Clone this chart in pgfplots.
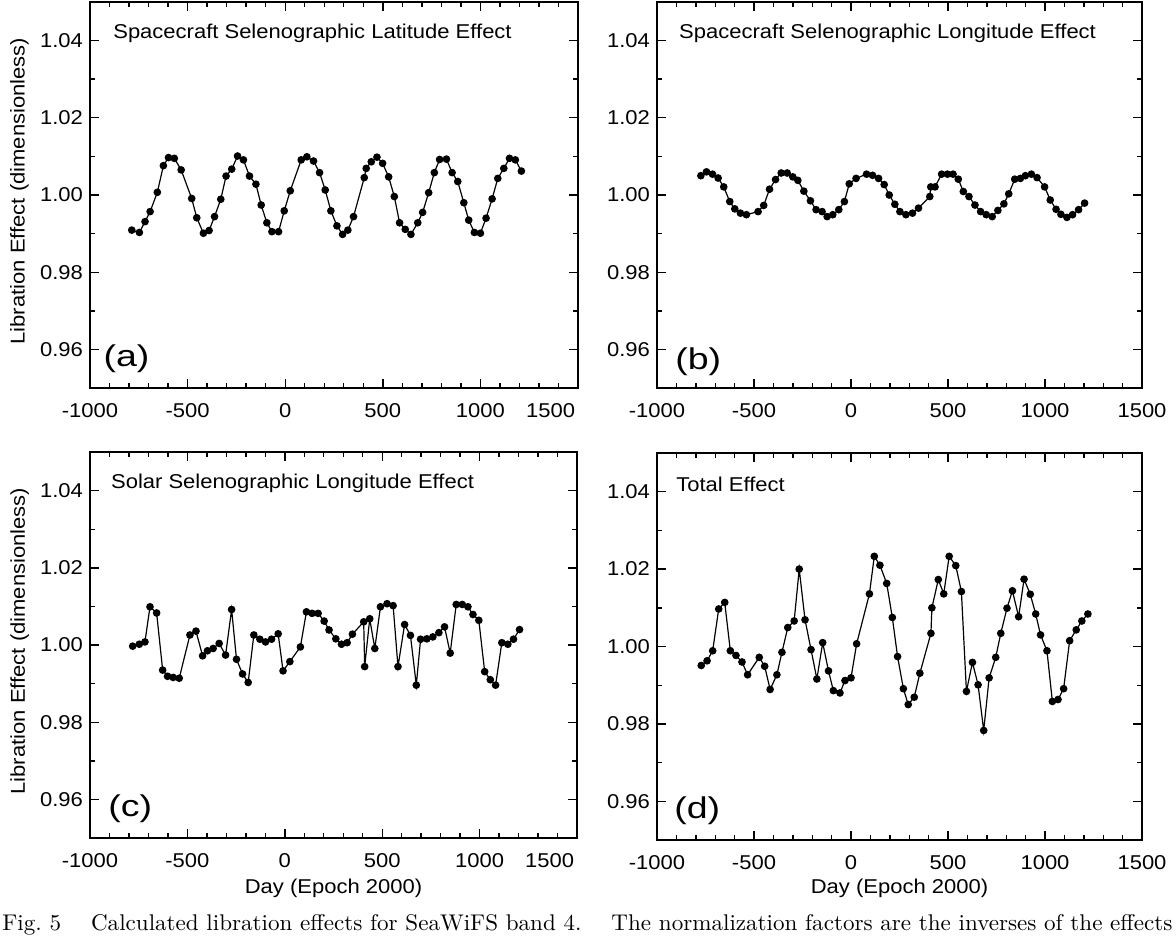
\documentclass[border=0pt]{standalone}
\usepackage{fontspec}
\usepackage{graphicx}
\usepackage{pgfplots}
\pgfplotsset{compat=1.18}
\newfontfamily\chartfont{Liberation Sans}[FakeStretch=1.1]
\newfontfamily\panelfont{Liberation Sans}[FakeStretch=1.25]

\pgfplotsset{
  libaxis/.style={
    scale only axis, anchor=south west,
    xmin=-1000, xmax=1500, ymin=0.95, ymax=1.05,
    xtick={-1000,-500,0,500,1000,1500},
    ytick={0.96,0.98,1.00,1.02,1.04},
    minor x tick num=4, minor y tick num=1,
    tick align=inside,
    major tick length=4.5pt, minor tick length=2.5pt,
    every tick/.append style={black, line width=0.7pt},
    axis line style={line width=1pt},
    /pgf/number format/assume math mode=true,
    /pgf/number format/1000 sep={},
    tick label style={font=\fontsize{10}{12}\chartfont},
    xticklabel style={yshift=-4pt},
    yticklabel style={/pgf/number format/fixed, /pgf/number format/fixed zerofill, /pgf/number format/precision=2},
    clip=false,
  },
  leftpanel/.style={
    xticklabels={-1000,-500,0,500,1000,\makebox[0pt][r]{1500\hspace{1.5pt}}},
  },
  libplot/.style={black, line width=0.6pt, mark=*, mark size=1.6pt, mark options={solid, fill=black}},
}

\pgfplotstableread{
x y
-786 0.9909
-747 0.9903
-718 0.9931
-692 0.9957
-655 1.0007
-624 1.0076
-598 1.0097
-568 1.0095
-533 1.0065
-479 0.9991
-453 0.9941
-419 0.9901
-390 0.9908
-362 0.9944
-330 0.9989
-303 1.0049
-274 1.0067
-244 1.0101
-214 1.0091
-183 1.0049
-150 1.0028
-123 0.9974
-94 0.9928
-68 0.9905
-34 0.9905
-5 0.9959
26 1.0011
82 1.0091
111 1.0099
145 1.0088
176 1.0058
205 1.0013
234 0.9959
265 0.9920
294 0.9898
321 0.9909
350 0.9944
405 1.0045
415 1.0069
441 1.0086
470 1.0098
499 1.0082
530 1.0047
559 0.9996
586 0.9928
615 0.9911
644 0.9898
679 0.9928
704 0.9955
735 1.0006
764 1.0058
791 1.0092
826 1.0093
855 1.0058
884 1.0035
915 0.9980
940 0.9935
969 0.9903
1000 0.9901
1029 0.9940
1060 0.9990
1089 1.0043
1120 1.0069
1149 1.0095
1179 1.0091
1210 1.0062
}\dataA

\pgfplotstableread{
x y
-774 1.0050
-745 1.0060
-714 1.0054
-685 1.0044
-656 1.0021
-625 0.9983
-599 0.9964
-570 0.9953
-539 0.9949
-479 0.9957
-450 0.9973
-420 1.0015
-389 1.0040
-360 1.0057
-329 1.0057
-300 1.0047
-274 1.0038
-243 1.0010
-209 0.9985
-180 0.9962
-149 0.9957
-123 0.9944
-94 0.9949
-63 0.9962
-34 0.9983
-9 1.0029
26 1.0043
80 1.0054
111 1.0051
142 1.0043
171 1.0027
197 1.0000
226 0.9976
252 0.9957
283 0.9949
317 0.9953
348 0.9966
406 0.9996
411 1.0021
433 1.0021
467 1.0054
497 1.0054
526 1.0054
553 1.0041
579 1.0009
608 0.9996
639 0.9974
668 0.9957
697 0.9949
728 0.9944
757 0.9960
788 0.9977
813 1.0003
844 1.0041
873 1.0043
899 1.0050
930 1.0054
959 1.0045
998 1.0021
1027 0.9987
1057 0.9963
1082 0.9950
1113 0.9942
1142 0.9949
1173 0.9962
1204 0.9979
}\dataB

\pgfplotstableread{
x y
-781 0.9997
-747 1.0002
-718 1.0008
-692 1.0099
-658 1.0083
-627 0.9935
-602 0.9919
-573 0.9916
-542 0.9914
-487 1.0026
-456 1.0036
-422 0.9972
-397 0.9985
-368 0.9991
-337 1.0004
-304 0.9974
-273 1.0092
-248 0.9963
-217 0.9925
-188 0.9903
-159 1.0026
-128 1.0015
-99 1.0008
-68 1.0015
-34 1.0029
-9 0.9933
26 0.9957
80 0.9995
111 1.0086
140 1.0082
171 1.0082
202 1.0062
227 1.0039
262 1.0016
291 1.0002
320 1.0006
347 1.0028
405 1.0060
410 0.9944
436 1.0068
462 0.9991
491 1.0099
525 1.0107
556 1.0102
581 0.9944
615 1.0053
645 1.0025
675 0.9896
697 1.0015
729 1.0016
760 1.0021
791 1.0032
820 1.0047
849 0.9979
880 1.0105
911 1.0105
940 1.0099
966 1.0079
996 1.0064
1026 0.9931
1055 0.9910
1082 0.9896
1114 1.0006
1145 1.0002
1174 1.0015
1205 1.0040
}\dataC

\pgfplotstableread{
x y
-772 0.9951
-742 0.9963
-713 0.9989
-682 1.0097
-651 1.0114
-622 0.9989
-593 0.9977
-562 0.9960
-533 0.9927
-473 0.9972
-445 0.9949
-417 0.9889
-382 0.9927
-356 0.9985
-326 1.0049
-293 1.0066
-267 1.0200
-237 1.0069
-206 0.9992
-176 0.9916
-146 1.0010
-116 0.9937
-91 0.9886
-57 0.9880
-31 0.9912
0 0.9919
29 1.0007
95 1.0136
120 1.0233
149 1.0210
184 1.0163
213 1.0075
240 0.9974
270 0.9891
295 0.9850
326 0.9869
355 0.9931
412 1.0034
417 1.0100
450 1.0173
478 1.0136
506 1.0233
540 1.0209
569 1.0142
595 0.9884
626 0.9959
655 0.9901
684 0.9783
712 0.9919
746 0.9972
772 1.0034
804 1.0099
832 1.0144
864 1.0077
892 1.0174
924 1.0135
952 1.0084
977 1.0030
1010 0.9989
1038 0.9858
1067 0.9863
1096 0.9891
1127 1.0015
1161 1.0043
1190 1.0066
1221 1.0084
}\dataD

\begin{document}
\begin{tikzpicture}
\useasboundingbox (0,0) rectangle (588pt,-468pt);

% (a)
\begin{axis}[libaxis, leftpanel, at={(45pt,-194pt)}, width=244pt, height=193pt]
\addplot[libplot] table[x=x, y=y] {\dataA};
\node[anchor=west, inner sep=0, font=\fontsize{10}{12}\chartfont] at (rel axis cs:0.047,0.92) {Spacecraft Selenographic Latitude Effect};
\node[anchor=west, inner sep=0, font=\fontsize{15}{18}\panelfont] at (rel axis cs:0.027,0.075) {(a)};
\node[rotate=90, font=\fontsize{10}{12}\chartfont] at (rel axis cs:-0.1445,0.51) {Libration Effect (dimensionless)};
\end{axis}

% (b)
\begin{axis}[libaxis, at={(328.5pt,-194pt)}, width=242.5pt, height=193pt]
\addplot[libplot] table[x=x, y=y] {\dataB};
\node[anchor=west, inner sep=0, font=\fontsize{10}{12}\chartfont] at (rel axis cs:0.045,0.92) {Spacecraft Selenographic Longitude Effect};
\node[anchor=west, inner sep=0, font=\fontsize{15}{18}\panelfont] at (rel axis cs:0.037,0.068) {(b)};
\end{axis}

% (c)
\begin{axis}[libaxis, leftpanel, at={(45pt,-419pt)}, width=243.5pt, height=193pt]
\addplot[libplot] table[x=x, y=y] {\dataC};
\node[anchor=west, inner sep=0, font=\fontsize{10}{12}\chartfont] at (rel axis cs:0.0425,0.92) {Solar Selenographic Longitude Effect};
\node[anchor=west, inner sep=0, font=\fontsize{15}{18}\panelfont] at (rel axis cs:0.037,0.075) {(c)};
\node[rotate=90, font=\fontsize{10}{12}\chartfont] at (rel axis cs:-0.1445,0.51) {Libration Effect (dimensionless)};
\node[font=\fontsize{10}{12}\chartfont] at (rel axis cs:0.5,-0.13) {Day (Epoch 2000)};
\end{axis}

% (d)
\begin{axis}[libaxis, at={(328.5pt,-420pt)}, width=242.5pt, height=193.5pt]
\addplot[libplot] table[x=x, y=y] {\dataD};
\node[anchor=west, inner sep=0, font=\fontsize{10}{12}\chartfont] at (rel axis cs:0.039,0.92) {Total Effect};
\node[anchor=west, inner sep=0, font=\fontsize{15}{18}\panelfont] at (rel axis cs:0.035,0.075) {(d)};
\node[font=\fontsize{10}{12}\chartfont] at (rel axis cs:0.5,-0.124) {Day (Epoch 2000)};
\end{axis}

% caption at the lower edge, as in the reference
\node[anchor=base west, inner sep=0] at (1pt,-465.4pt) {\resizebox{585pt}{8pt}{Fig.~5\hspace{1.3em}Calculated libration effects for SeaWiFS band 4.\hspace{1.3em}The normalization factors are the inverses of the effects}};
\end{tikzpicture}
\end{document}
